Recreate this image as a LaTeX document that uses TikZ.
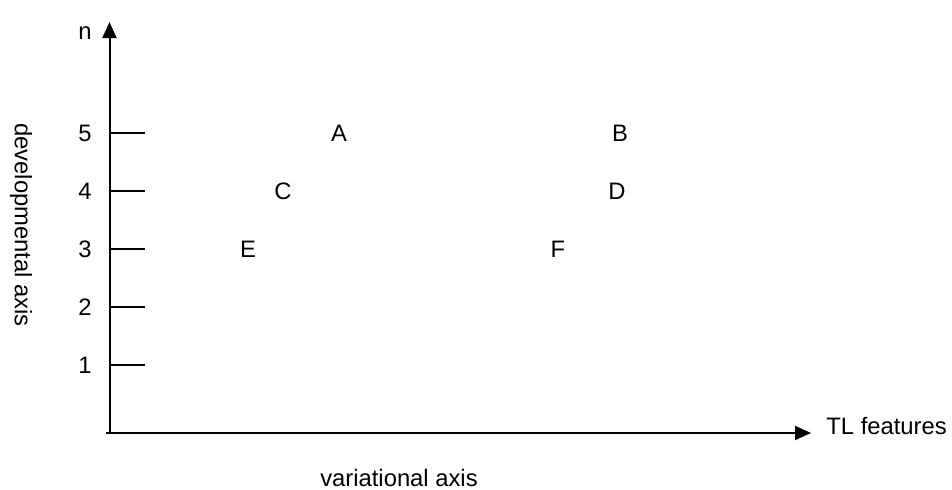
\documentclass[tikz,border=0pt]{standalone}
\usepackage{fontspec}
\setmainfont{Liberation Sans}
\usetikzlibrary{arrows.meta}
\begin{document}
\begin{tikzpicture}[x=0.5pt,y=-0.5pt,
  axis/.style={line width=1pt,-{Triangle[length=8pt,width=7pt]}},
  tick/.style={line width=0.9pt},
  lbl/.style={font=\fontsize{11.9}{14}\selectfont,inner sep=0pt}]
\useasboundingbox (0,0) rectangle (952,489);
\coordinate (o) at (109.5,433);
\coordinate (ytop) at (109.5,22);
\coordinate (xend) at (811,433);
\coordinate (ostart) at (106,433);
\draw[axis] (ostart) -- (xend);
\draw[axis] (o) -- (ytop);
\foreach \v/\y in {5/133,4/191,3/249,2/307,1/365}{
  \coordinate (t\v) at (109.5,\y);
  \coordinate (te\v) at (145,\y);
  \draw[tick] (t\v) -- (te\v);
  \node[lbl] (n\v) at (85,\y) {\v};
}
\node[lbl] (nn) at (85,33) {n};
\node[lbl] (A) at (339,133) {A};
\node[lbl] (B) at (620,133) {B};
\node[lbl] (C) at (283,191) {C};
\node[lbl] (D) at (617,191) {D};
\node[lbl] (E) at (248,249) {E};
\node[lbl] (F) at (558,249) {F};
\node[lbl,anchor=west] (tl) at (826,426) {TL features};
\node[lbl] (va) at (399,478) {variational axis};
\node[lbl,rotate=-90] (da) at (21,225) {developmental axis};
\end{tikzpicture}
\end{document}
